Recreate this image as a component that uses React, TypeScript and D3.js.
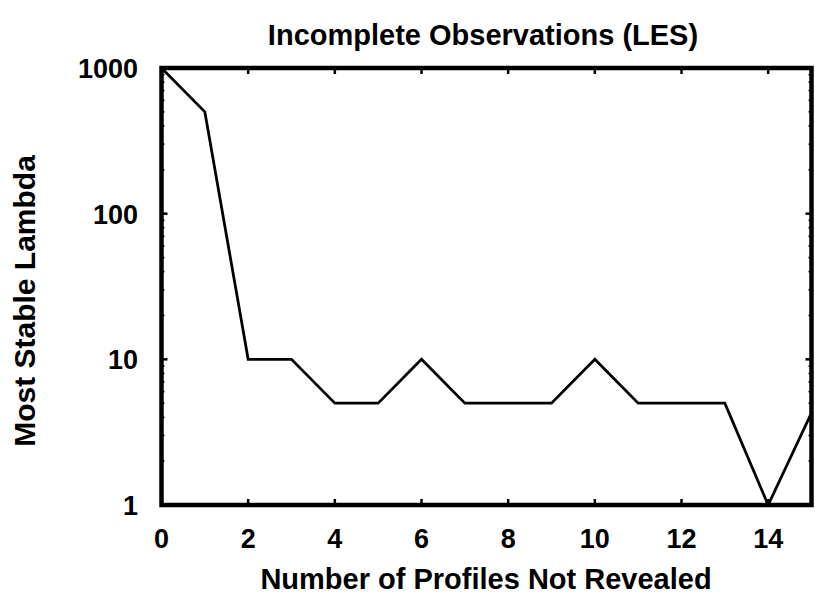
import React from "react";
import * as d3 from "d3";

const profilesNotRevealed = [0, 1, 2, 3, 4, 5, 6, 7, 8, 9, 10, 11, 12, 13, 14, 15];
const mostStableLambda = [1000, 500, 10, 10, 5, 5, 10, 5, 5, 5, 10, 5, 5, 5, 1, 4.3];
const xTicks = [0, 2, 4, 6, 8, 10, 12, 14];
const yTicks = [1, 10, 100, 1000];

const W = 815;
const H = 597;
const L = 161.5;
const R = 811.5;
const T = 68;
const B = 505;

export default function App() {
  const x = d3.scaleLinear().domain([0, 15]).range([L, R]);
  const y = d3.scaleLog().domain([1, 1000]).range([B, T]);
  const line = d3
    .line<number>()
    .x((_, i) => x(profilesNotRevealed[i]))
    .y((d) => y(d));
  const minor: number[] = [];
  for (const dec of [1, 10, 100]) for (let k = 2; k <= 9; k++) minor.push(dec * k);
  const font = "'Liberation Sans', Arial, Helvetica, sans-serif";
  return (
    <svg
      width={W}
      height={H}
      style={{ position: "absolute", left: 0, top: 0, background: "#fff" }}
      fontFamily={font}
      fontWeight="bold"
    >
      <rect x={0} y={0} width={W} height={H} fill="#fff" />
      <defs>
        <clipPath id="clip">
          <rect x={L} y={T} width={R - L} height={B - T} />
        </clipPath>
      </defs>
      <text x={483} y={45} textAnchor="middle" fontSize={29} fill="#000">
        Incomplete Observations (LES)
      </text>
      {/* x ticks */}
      {xTicks.map((t) => (
        <g key={"x" + t}>
          {t > 0 && <line x1={x(t)} x2={x(t)} y1={B} y2={B - 6} stroke="#000" strokeWidth={2.5} />}
          {t > 0 && <line x1={x(t)} x2={x(t)} y1={T} y2={T + 6} stroke="#000" strokeWidth={2.5} />}
          <text x={x(t)} y={548} textAnchor="middle" fontSize={27} fill="#000">
            {t}
          </text>
        </g>
      ))}
      {/* y minor ticks */}
      {minor.map((v) => (
        <g key={"m" + v}>
          <line x1={L} x2={L + 3} y1={y(v)} y2={y(v)} stroke="#000" strokeWidth={1.5} />
          <line x1={R} x2={R - 3} y1={y(v)} y2={y(v)} stroke="#000" strokeWidth={1.5} />
        </g>
      ))}
      {/* y major ticks */}
      {yTicks.map((t) => (
        <g key={"y" + t}>
          <line x1={L} x2={L + 6} y1={y(t)} y2={y(t)} stroke="#000" strokeWidth={2.5} />
          <line x1={R} x2={R - 6} y1={y(t)} y2={y(t)} stroke="#000" strokeWidth={2.5} />
          <text x={138} y={y(t) + 10} textAnchor="end" fontSize={27} fill="#000">
            {t}
          </text>
        </g>
      ))}
      <path
        d={line(mostStableLambda) || ""}
        fill="none"
        stroke="#000"
        strokeWidth={2.8}
        strokeLinejoin="miter"
        clipPath="url(#clip)"
      />
      <rect x={L} y={T} width={R - L} height={B - T} fill="none" stroke="#000" strokeWidth={4.5} />
      <text x={486} y={589} textAnchor="middle" fontSize={29} fill="#000">
        Number of Profiles Not Revealed
      </text>
      <text
        transform={`translate(35,301) rotate(-90)`}
        textAnchor="middle"
        fontSize={30}
        fill="#000"
      >
        Most Stable Lambda
      </text>
    </svg>
  );
}
